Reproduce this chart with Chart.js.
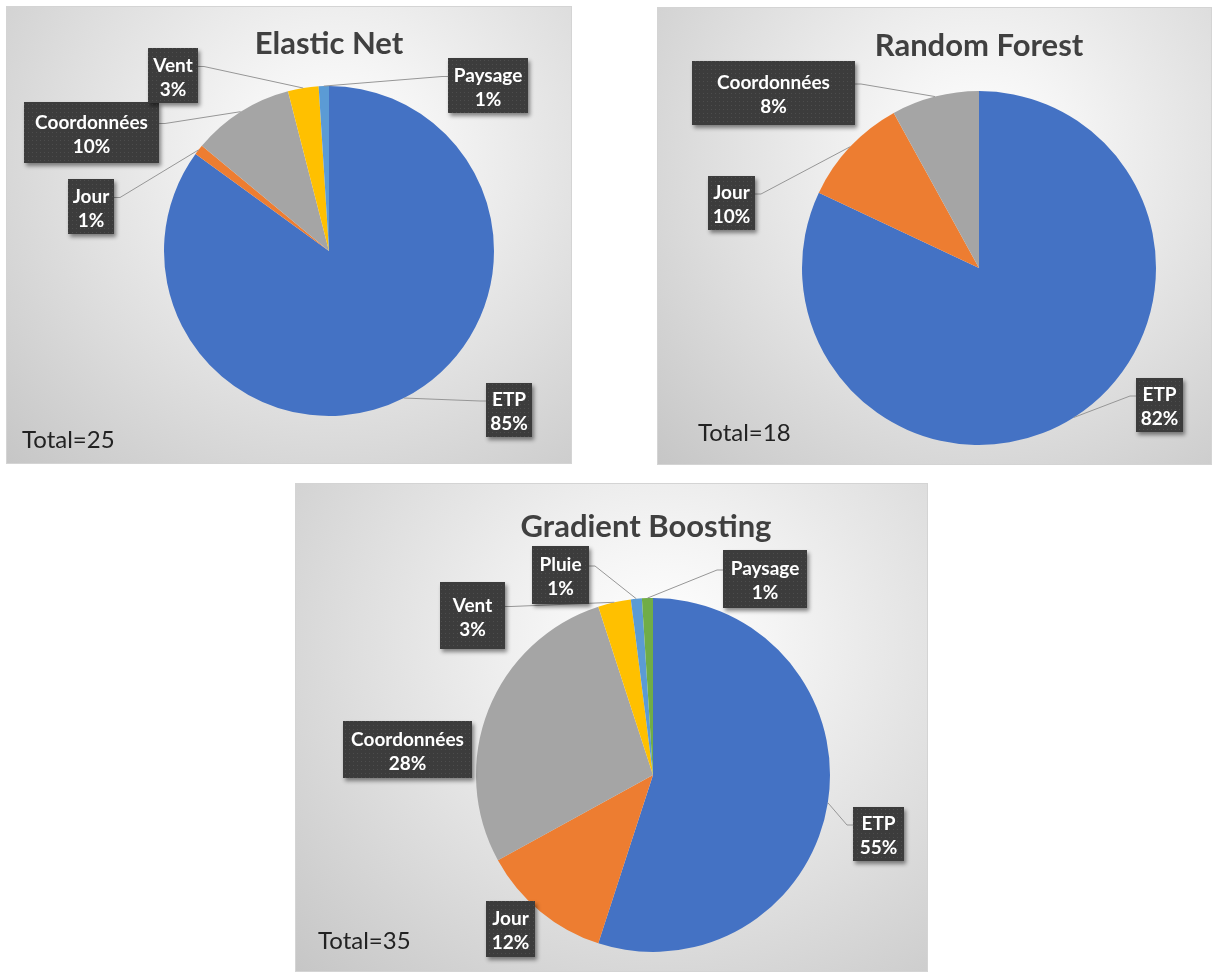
<!DOCTYPE html>
<html lang="fr">
<head>
<meta charset="utf-8">
<title>Importance des variables</title>
<script src="https://cdn.jsdelivr.net/npm/chart.js@4.4.1/dist/chart.umd.min.js"></script>
<style>
  html, body { margin: 0; padding: 0; background: #ffffff; }
  body { width: 1212px; height: 972px; position: relative; overflow: hidden; }
  .panel {
    position: absolute;
    box-sizing: border-box;
    border: 1px solid #d4d4d4;
    background: radial-gradient(ellipse farthest-corner at 58% 32%, #ffffff 0%, #f4f4f4 22%, #dedede 60%, #c6c6c6 100%);
  }
  .panel canvas { position: absolute; left: 0; top: 0; }
</style>
</head>
<body>
<div class="panel" id="panel-en"><canvas id="chart-en"></canvas></div>
<div class="panel" id="panel-rf"><canvas id="chart-rf"></canvas></div>
<div class="panel" id="panel-gb"><canvas id="chart-gb"></canvas></div>

<script>
// ---- data ----
const EN_TITLE = 'Elastic Net';
const EN_LABELS = ['ETP', 'Jour', 'Coordonnées', 'Vent', 'Paysage'];
const EN_VALUES = [85, 1, 10, 3, 1];
const EN_TOTAL = 25;

const RF_TITLE = 'Random Forest';
const RF_LABELS = ['ETP', 'Jour', 'Coordonnées'];
const RF_VALUES = [82, 10, 8];
const RF_TOTAL = 18;

const GB_TITLE = 'Gradient Boosting';
const GB_LABELS = ['ETP', 'Jour', 'Coordonnées', 'Vent', 'Pluie', 'Paysage'];
const GB_VALUES = [55, 12, 28, 3, 1, 1];
const GB_TOTAL = 35;

// Office-style slice colours, used in series order
const PALETTE = ['#4472C4', '#ED7D31', '#A5A5A5', '#FFC000', '#5B9BD5', '#70AD47'];

// ---- layout (panel-local pixels) ----
// box: [x, y, w, h, leader line?]
const LAYOUT = {
  en: {
    rect: [6, 6, 566, 458],
    padding: { left: 157, right: 79, top: 79, bottom: 49 },
    titleAt: [322, 47],
    totalAt: [15, 441],
    boxes: [
      [479, 376, 46, 54, true],
      [61, 172, 46, 55, true],
      [17, 95, 135, 61, true],
      [141, 41, 50, 55, true],
      [441, 51, 80, 55, true]
    ]
  },
  rf: {
    rect: [657, 7, 555, 458],
    padding: { left: 144, right: 57, top: 83, bottom: 21 },
    titleAt: [321, 48],
    totalAt: [40, 433],
    boxes: [
      [478, 370, 47, 54, true],
      [50, 168, 47, 54, true],
      [34, 53, 163, 64, true]
    ]
  },
  gb: {
    rect: [295, 483, 633, 489],
    padding: { left: 180, right: 99, top: 114, bottom: 21 },
    titleAt: [350, 53],
    totalAt: [22, 465],
    boxes: [
      [557, 323, 51, 54, true],
      [190, 417, 49, 56, false],
      [47, 237, 129, 57, false],
      [144, 98, 65, 67, true],
      [236, 62, 57, 58, true],
      [427, 66, 84, 58, true]
    ]
  }
};

// small dotted fill for the data label boxes
function makeBoxPattern(ctx) {
  const tile = document.createElement('canvas');
  tile.width = 4;
  tile.height = 4;
  const t = tile.getContext('2d');
  t.fillStyle = '#3c3c3c';
  t.fillRect(0, 0, 4, 4);
  t.fillStyle = '#4d4d4d';
  t.fillRect(1, 1, 1, 1);
  return ctx.createPattern(tile, 'repeat');
}

// ---- plugin: title, total and callout labels ----
const calloutPlugin = {
  id: 'callouts',
  afterDatasetsDraw(chart, args, opts) {
    const ctx = chart.ctx;
    const meta = chart.getDatasetMeta(0);
    const values = chart.data.datasets[0].data;
    const labels = chart.data.labels;
    const sum = values.reduce((a, b) => a + b, 0);

    ctx.save();

    // title
    ctx.fillStyle = '#404040';
    ctx.font = 'bold 31px Lato';
    ctx.textAlign = 'center';
    ctx.textBaseline = 'alphabetic';
    ctx.fillText(opts.title, opts.titleAt[0], opts.titleAt[1]);

    // total
    ctx.fillStyle = '#222222';
    ctx.font = '24px Lato';
    ctx.textAlign = 'left';
    ctx.fillText('Total=' + opts.total, opts.totalAt[0], opts.totalAt[1]);

    // leader lines
    ctx.strokeStyle = '#969696';
    ctx.lineWidth = 1;
    meta.data.forEach((arc, i) => {
      const b = opts.boxes[i];
      if (!b || !b[4]) return;
      const p = arc.getProps(['x', 'y', 'startAngle', 'endAngle', 'outerRadius'], true);
      const mid = (p.startAngle + p.endAngle) / 2;
      const px = p.x + Math.cos(mid) * p.outerRadius;
      const py = p.y + Math.sin(mid) * p.outerRadius;
      const onLeft = b[0] + b[2] / 2 < px;
      const sx = onLeft ? b[0] + b[2] : b[0];
      const sy = b[1] + 18 + (b[3] - 55) / 2;
      const kx = onLeft ? sx + 6 : sx - 6;
      ctx.beginPath();
      ctx.moveTo(sx, sy + 0.5);
      ctx.lineTo(kx, sy + 0.5);
      ctx.lineTo(px, py);
      ctx.stroke();
    });

    // label boxes
    const pattern = makeBoxPattern(ctx);
    meta.data.forEach((arc, i) => {
      const b = opts.boxes[i];
      if (!b) return;
      const pct = Math.round(values[i] / sum * 100) + '%';

      ctx.save();
      ctx.shadowColor = 'rgba(0, 0, 0, 0.45)';
      ctx.shadowBlur = 4;
      ctx.shadowOffsetX = 2;
      ctx.shadowOffsetY = 3;
      ctx.fillStyle = '#3c3c3c';
      ctx.fillRect(b[0], b[1], b[2], b[3]);
      ctx.restore();
      ctx.fillStyle = pattern;
      ctx.fillRect(b[0], b[1], b[2], b[3]);

      const cx = b[0] + b[2] / 2;
      const cy = b[1] + b[3] / 2;
      ctx.fillStyle = '#ffffff';
      ctx.font = 'bold 19px Lato';
      ctx.textAlign = 'center';
      ctx.textBaseline = 'alphabetic';
      ctx.fillText(labels[i], cx, cy - 4);
      ctx.fillText(pct, cx, cy + 20);
    });

    ctx.restore();
  }
};

// ---- charts ----
function buildPie(key, title, labels, values, total) {
  const lay = LAYOUT[key];
  const panel = document.getElementById('panel-' + key);
  panel.style.left = lay.rect[0] + 'px';
  panel.style.top = lay.rect[1] + 'px';
  panel.style.width = lay.rect[2] + 'px';
  panel.style.height = lay.rect[3] + 'px';

  const canvas = document.getElementById('chart-' + key);
  canvas.width = lay.rect[2];
  canvas.height = lay.rect[3];
  canvas.style.width = lay.rect[2] + 'px';
  canvas.style.height = lay.rect[3] + 'px';

  return new Chart(canvas.getContext('2d'), {
    type: 'pie',
    data: {
      labels: labels,
      datasets: [{
        data: values,
        backgroundColor: PALETTE.slice(0, values.length),
        borderWidth: 0
      }]
    },
    options: {
      responsive: false,
      devicePixelRatio: 1,
      animation: false,
      layout: { padding: lay.padding },
      plugins: {
        legend: { display: false },
        tooltip: { enabled: false },
        callouts: {
          title: title,
          total: total,
          titleAt: lay.titleAt,
          totalAt: lay.totalAt,
          boxes: lay.boxes
        }
      }
    },
    plugins: [calloutPlugin]
  });
}

document.fonts.load('bold 31px Lato').then(() => document.fonts.load('24px Lato')).finally(() => {
  buildPie('en', EN_TITLE, EN_LABELS, EN_VALUES, EN_TOTAL);
  buildPie('rf', RF_TITLE, RF_LABELS, RF_VALUES, RF_TOTAL);
  buildPie('gb', GB_TITLE, GB_LABELS, GB_VALUES, GB_TOTAL);
});
</script>
</body>
</html>
